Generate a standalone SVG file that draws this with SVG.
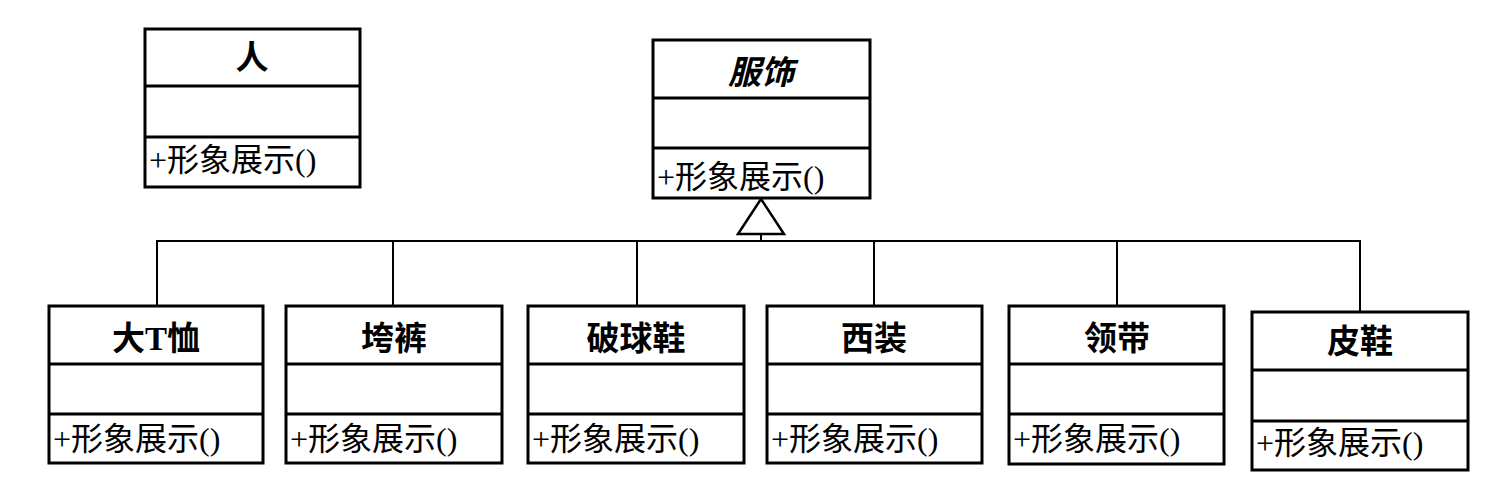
<svg xmlns="http://www.w3.org/2000/svg" width="1503" height="480" viewBox="0 0 1503 480">
<style>
.box{fill:#fff;stroke:#000;stroke-width:3}
.div{stroke:#000;stroke-width:3}
.title{font-family:"Liberation Serif","Noto Sans CJK SC",serif;font-size:33px;font-weight:bold;text-anchor:middle;fill:#000}
.abs{font-style:italic}
.op{font-family:"Liberation Serif","Noto Sans CJK SC",serif;font-size:32px;fill:#000}
.conn{stroke:#000;stroke-width:2;fill:none}
</style>
<rect width="1503" height="480" fill="#fff"/>
<g id="connectors">
<polyline class="conn" points="157,306 157,241 1360,241 1360,312"/>
<line class="conn" x1="393" y1="241" x2="393" y2="306"/>
<line class="conn" x1="637" y1="241" x2="637" y2="306"/>
<line class="conn" x1="874" y1="241" x2="874" y2="306"/>
<line class="conn" x1="1117" y1="241" x2="1117" y2="306"/>
<line class="conn" x1="761" y1="234" x2="761" y2="241"/>
<polygon points="761,199 738,234 784,234" fill="#fff" stroke="#000" stroke-width="2.5"/>
</g>
<g id="person">
<rect class="box" x="145" y="29" width="215" height="158"/>
<line class="div" x1="145" y1="86" x2="360" y2="86"/>
<line class="div" x1="145" y1="137" x2="360" y2="137"/>
<text class="title" x="252" y="69">人</text>
<text class="op" x="149" y="171">+形象展示()</text>
</g>
<g id="finery">
<rect class="box" x="653" y="40" width="217" height="158"/>
<line class="div" x1="653" y1="98" x2="870" y2="98"/>
<line class="div" x1="653" y1="148" x2="870" y2="148"/>
<text class="title abs" x="761" y="84">服饰</text>
<text class="op" x="657" y="188">+形象展示()</text>
</g>
<g id="tshirt">
<rect class="box" x="49" y="306" width="214" height="157"/>
<line class="div" x1="49" y1="364" x2="263" y2="364"/>
<line class="div" x1="49" y1="414" x2="263" y2="414"/>
<text class="title" x="156" y="350">大T恤</text>
<text class="op" x="53" y="450">+形象展示()</text>
</g>
<g id="pants">
<rect class="box" x="286" y="306" width="216" height="157"/>
<line class="div" x1="286" y1="364" x2="502" y2="364"/>
<line class="div" x1="286" y1="414" x2="502" y2="414"/>
<text class="title" x="394" y="350">垮裤</text>
<text class="op" x="290" y="450">+形象展示()</text>
</g>
<g id="sneakers">
<rect class="box" x="528" y="306" width="216" height="157"/>
<line class="div" x1="528" y1="364" x2="744" y2="364"/>
<line class="div" x1="528" y1="414" x2="744" y2="414"/>
<text class="title" x="636" y="350">破球鞋</text>
<text class="op" x="532" y="450">+形象展示()</text>
</g>
<g id="suit">
<rect class="box" x="767" y="306" width="215" height="157"/>
<line class="div" x1="767" y1="364" x2="982" y2="364"/>
<line class="div" x1="767" y1="414" x2="982" y2="414"/>
<text class="title" x="874" y="350">西装</text>
<text class="op" x="771" y="450">+形象展示()</text>
</g>
<g id="tie">
<rect class="box" x="1009" y="306" width="215" height="158"/>
<line class="div" x1="1009" y1="364" x2="1224" y2="364"/>
<line class="div" x1="1009" y1="414" x2="1224" y2="414"/>
<text class="title" x="1117" y="350">领带</text>
<text class="op" x="1013" y="450">+形象展示()</text>
</g>
<g id="leathershoes">
<rect class="box" x="1252" y="312" width="216" height="158"/>
<line class="div" x1="1252" y1="370" x2="1468" y2="370"/>
<line class="div" x1="1252" y1="421" x2="1468" y2="421"/>
<text class="title" x="1360" y="353">皮鞋</text>
<text class="op" x="1256" y="454">+形象展示()</text>
</g>
</svg>
